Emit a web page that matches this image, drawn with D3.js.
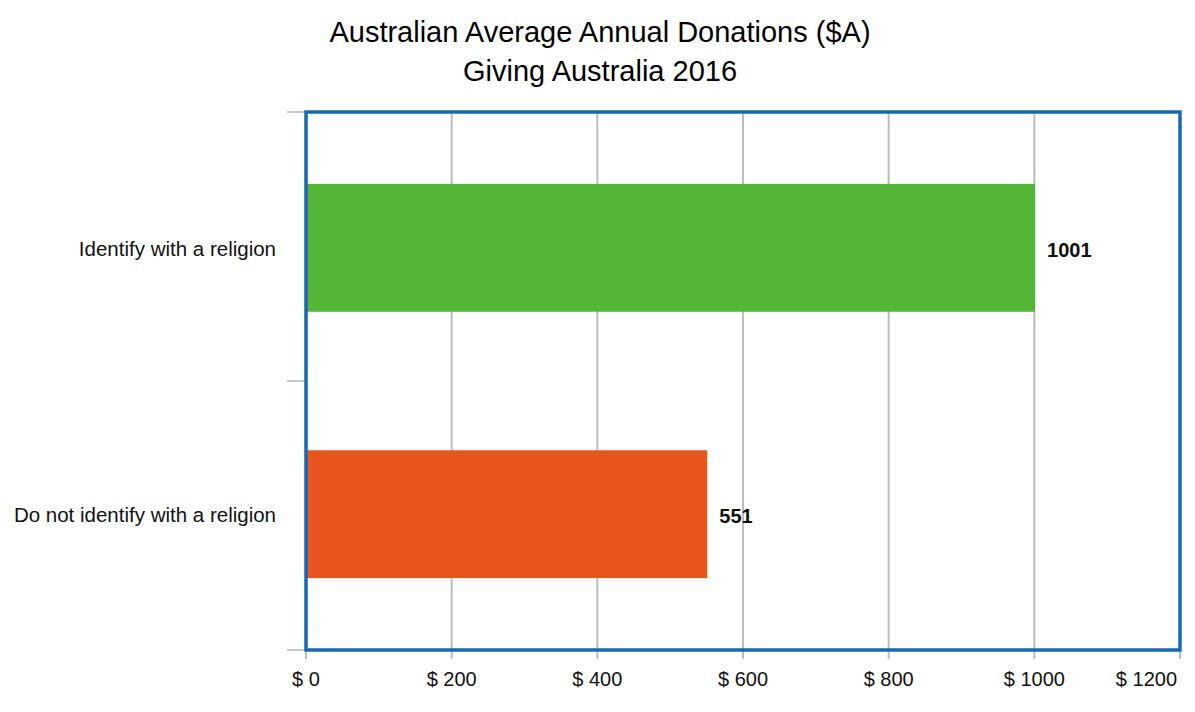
<!DOCTYPE html>
<html><head><meta charset="utf-8">
<script src="https://cdn.jsdelivr.net/npm/d3@7"></script>
<style>body{margin:0;background:#fff;} svg{display:block;font-family:"Liberation Sans",Arial,sans-serif;}</style>
</head><body>
<svg id="c" width="1195" height="712"></svg>
<script>
const categories = ["Identify with a religion", "Do not identify with a religion"];
const values = [1001, 551];
const colors = ["#55b536", "#e8561d"];
const xTicks = [0, 200, 400, 600, 800, 1000, 1200];
const titleLines = ["Australian Average Annual Donations ($A)", "Giving Australia 2016"];

const svg = d3.select("#c");
const L = 306, R = 1180, T = 112, B = 650;
const x = d3.scaleLinear().domain([0, 1200]).range([L, R]);
const y = d3.scaleBand().domain(categories).range([T, B]).paddingInner(0.52).paddingOuter(0.27);

// title
svg.selectAll("text.title").data(titleLines).enter().append("text")
  .attr("x", 600).attr("y", (d, i) => 42 + i * 39)
  .attr("text-anchor", "middle").attr("font-size", 29).attr("fill", "#000").text(d => d);

// grid lines
svg.selectAll("line.grid").data(xTicks).enter().append("line")
  .attr("x1", d => x(d)).attr("x2", d => x(d)).attr("y1", T).attr("y2", B + 9)
  .attr("stroke", "#bdbdbd").attr("stroke-width", 2);

// y ticks (left side)
const yEdges = [T, (T + B) / 2, B];
svg.selectAll("line.ytick").data(yEdges).enter().append("line")
  .attr("x1", 287).attr("x2", L).attr("y1", d => d).attr("y2", d => d)
  .attr("stroke", "#c4c8d4").attr("stroke-width", 2);

// bars
svg.selectAll("rect.bar").data(values).enter().append("rect")
  .attr("x", x(0)).attr("y", (d, i) => y(categories[i]))
  .attr("width", d => x(d) - x(0)).attr("height", y.bandwidth())
  .attr("fill", (d, i) => colors[i]);

// value labels
svg.selectAll("text.val").data(values).enter().append("text")
  .attr("x", d => x(d) + 12).attr("y", (d, i) => y(categories[i]) + y.bandwidth() / 2 + 9)
  .attr("font-size", 20).attr("font-weight", "bold").attr("fill", "#111").text(d => d);

// border
svg.append("rect").attr("x", L).attr("y", T).attr("width", R - L).attr("height", B - T)
  .attr("fill", "none").attr("stroke", "#1668b0").attr("stroke-width", 3.5);

// category labels
svg.selectAll("text.cat").data(categories).enter().append("text")
  .attr("x", 276).attr("y", d => y(d) + y.bandwidth() / 2 + 8)
  .attr("text-anchor", "end").attr("font-size", 20.5).attr("fill", "#111").text(d => d);

// x tick labels
svg.selectAll("text.xt").data(xTicks).enter().append("text")
  .attr("x", d => d === 1200 ? x(d) - 3 : x(d)).attr("y", 686)
  .attr("text-anchor", d => d === 1200 ? "end" : "middle")
  .attr("font-size", 20).attr("fill", "#111").text(d => "$ " + d);
</script>
</body></html>
